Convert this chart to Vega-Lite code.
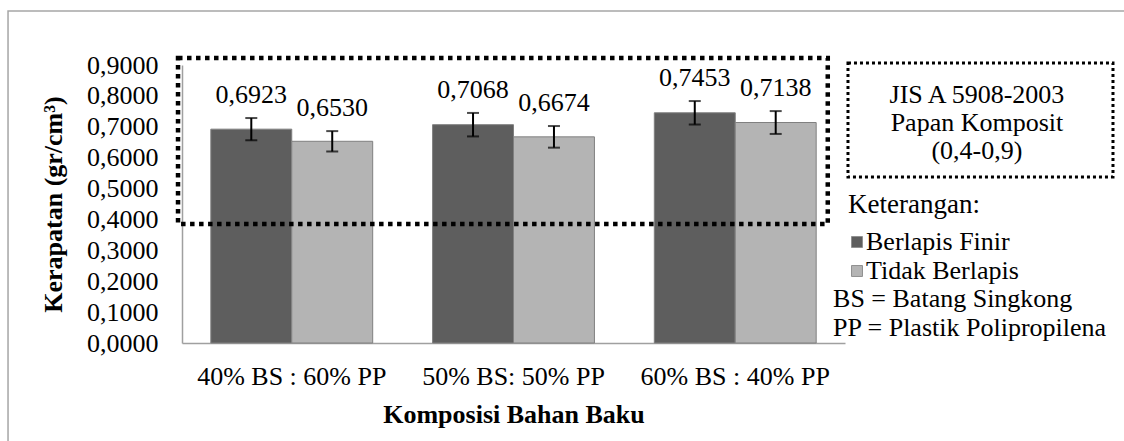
{
  "$schema": "https://vega.github.io/schema/vega-lite/v6.json",
  "width": 663,
  "height": 278,
  "autosize": {"type": "none"},
  "padding": {"left": 182, "top": 65, "right": 279, "bottom": 98},
  "background": "white",
  "config": {
    "locale": {"number": {"decimal": ",", "thousands": ".", "grouping": [3], "currency": ["", ""]}},
    "font": "Liberation Serif",
    "view": {"stroke": null},
    "axis": {
      "domainColor": "#a0a0a0",
      "domainWidth": 1.5,
      "ticks": false,
      "tickSize": 0,
      "grid": false,
      "labelFont": "Liberation Serif",
      "labelFontSize": 26,
      "labelColor": "black",
      "labelOverlap": false,
      "labelLimit": 0,
      "titleFont": "Liberation Serif",
      "titleFontSize": 26,
      "titleFontWeight": "bold",
      "titleColor": "black"
    },
    "axisY": {"tickCount": 10},
    "text": {"font": "Liberation Serif", "fontSize": 26, "color": "black"}
  },
  "datasets": {
    "kerapatan": [
      {"komposisi": "40% BS : 60% PP", "seri": "Berlapis Finir", "nilai": 0.6923, "lo": 0.6563, "hi": 0.7283},
      {"komposisi": "40% BS : 60% PP", "seri": "Tidak Berlapis", "nilai": 0.6530, "lo": 0.6200, "hi": 0.6860},
      {"komposisi": "50%  BS: 50% PP", "seri": "Berlapis Finir", "nilai": 0.7068, "lo": 0.6688, "hi": 0.7448},
      {"komposisi": "50%  BS: 50% PP", "seri": "Tidak Berlapis", "nilai": 0.6674, "lo": 0.6324, "hi": 0.7024},
      {"komposisi": "60% BS : 40% PP", "seri": "Berlapis Finir", "nilai": 0.7453, "lo": 0.7073, "hi": 0.7833},
      {"komposisi": "60% BS : 40% PP", "seri": "Tidak Berlapis", "nilai": 0.7138, "lo": 0.6768, "hi": 0.7508}
    ],
    "frame": [{"x": -0.2624, "x2": 1.45, "y": 1.0748, "y2": -0.4}],
    "standar": [{"x": -0.006, "x2": 0.974, "y": 0.9226, "y2": 0.385}],
    "kotakjis": [{"x": 1.0045, "x2": 1.4042, "y": 0.9064, "y2": 0.5374}],
    "teksjis": [
      {"t": "JIS A 5908-2003", "x": 1.199, "y": 0.8028},
      {"t": "Papan Komposit", "x": 1.199, "y": 0.7122},
      {"t": "(0,4-0,9)", "x": 1.199, "y": 0.6216}
    ],
    "catatan": [
      {"t": "BS = Batang Singkong", "x": 0.982, "y": 0.1424},
      {"t": "PP = Plastik Polipropilena", "x": 0.982, "y": 0.0486}
    ]
  },
  "layer": [
    {
      "data": {"name": "kerapatan"},
      "encoding": {
        "x": {
          "field": "komposisi",
          "type": "nominal",
          "sort": null,
          "scale": {"paddingInner": 0.27, "paddingOuter": 0.13},
          "axis": {"labelAngle": 0, "labelPadding": 20, "title": "Komposisi  Bahan Baku", "titlePadding": 12}
        },
        "xOffset": {"field": "seri", "type": "nominal", "sort": null, "scale": {"paddingInner": 0, "paddingOuter": 0}}
      },
      "layer": [
        {
          "mark": {"type": "bar", "stroke": "#808080", "strokeWidth": 1},
          "encoding": {
            "y": {
              "field": "nilai",
              "type": "quantitative",
              "scale": {"domain": [0, 0.9], "nice": false, "zero": true},
              "axis": {
                "values": [0, 0.1, 0.2, 0.3, 0.4, 0.5, 0.6, 0.7, 0.8, 0.9],
                "tickCount": 10,
                "format": ".4f",
                "labelOverlap": false,
                "labelPadding": 24,
                "title": "Kerapatan (gr/cm³)",
                "titlePadding": 20
              }
            },
            "color": {
              "field": "seri",
              "type": "nominal",
              "sort": null,
              "scale": {"domain": ["Berlapis Finir", "Tidak Berlapis"], "range": ["#5e5e5e", "#b4b4b4"]},
              "legend": {
                "orient": "none",
                "legendX": 666,
                "legendY": 127,
                "title": "Keterangan:",
                "titleFont": "Liberation Serif",
                "titleFontSize": 27,
                "titleFontWeight": "normal",
                "titleColor": "black",
                "titlePadding": 10,
                "labelFont": "Liberation Serif",
                "labelFontSize": 26,
                "labelColor": "black",
                "symbolType": "square",
                "symbolSize": 120,
                "symbolStrokeWidth": 1,
                "symbolStrokeColor": "#909090",
                "symbolOffset": -4,
                "labelOffset": -4,
                "rowPadding": 3,
                "padding": 0
              }
            }
          }
        },
        {
          "mark": {"type": "rule", "color": "black", "strokeWidth": 2},
          "encoding": {
            "y": {
              "field": "lo",
              "type": "quantitative",
              "axis": {
                "values": [0, 0.1, 0.2, 0.3, 0.4, 0.5, 0.6, 0.7, 0.8, 0.9],
                "tickCount": 10,
                "format": ".4f",
                "labelOverlap": false,
                "labelPadding": 24,
                "title": "Kerapatan (gr/cm³)",
                "titlePadding": 20
              }
            },
            "y2": {"field": "hi"}
          }
        },
        {
          "mark": {"type": "tick", "color": "black", "thickness": 2, "size": 12},
          "encoding": {
            "y": {
              "field": "lo",
              "type": "quantitative",
              "axis": {
                "values": [0, 0.1, 0.2, 0.3, 0.4, 0.5, 0.6, 0.7, 0.8, 0.9],
                "tickCount": 10,
                "format": ".4f",
                "labelOverlap": false,
                "labelPadding": 24,
                "title": "Kerapatan (gr/cm³)",
                "titlePadding": 20
              }
            }
          }
        },
        {
          "mark": {"type": "tick", "color": "black", "thickness": 2, "size": 12},
          "encoding": {
            "y": {
              "field": "hi",
              "type": "quantitative",
              "axis": {
                "values": [0, 0.1, 0.2, 0.3, 0.4, 0.5, 0.6, 0.7, 0.8, 0.9],
                "tickCount": 10,
                "format": ".4f",
                "labelOverlap": false,
                "labelPadding": 24,
                "title": "Kerapatan (gr/cm³)",
                "titlePadding": 20
              }
            }
          }
        },
        {
          "mark": {"type": "text", "dy": -15, "baseline": "alphabetic", "align": "center"},
          "encoding": {
            "y": {
              "field": "hi",
              "type": "quantitative",
              "axis": {
                "values": [0, 0.1, 0.2, 0.3, 0.4, 0.5, 0.6, 0.7, 0.8, 0.9],
                "tickCount": 10,
                "format": ".4f",
                "labelOverlap": false,
                "labelPadding": 24,
                "title": "Kerapatan (gr/cm³)",
                "titlePadding": 20
              }
            },
            "text": {"field": "nilai", "type": "quantitative", "format": ".4f"}
          }
        }
      ]
    },
    {
      "encoding": {
        "x": {"field": "x", "type": "quantitative", "scale": {"domain": [0, 1], "nice": false, "zero": false}, "axis": null},
        "y": {"field": "y", "type": "quantitative", "scale": {"domain": [0, 0.9], "nice": false, "zero": false}, "axis": null}
      },
      "layer": [
        {
          "data": {"name": "frame"},
          "mark": {"type": "rect", "fill": "white", "fillOpacity": 0, "stroke": "#a6a6a6", "strokeWidth": 1.5},
          "encoding": {"x2": {"field": "x2"}, "y2": {"field": "y2"}}
        },
        {
          "data": {"name": "standar"},
          "mark": {"type": "rect", "fill": "white", "fillOpacity": 0, "stroke": "black", "strokeWidth": 4.5, "strokeDash": [4.5, 4.5]},
          "encoding": {"x2": {"field": "x2"}, "y2": {"field": "y2"}}
        },
        {
          "data": {"name": "kotakjis"},
          "mark": {"type": "rect", "fill": "white", "fillOpacity": 0, "stroke": "black", "strokeWidth": 3, "strokeDash": [3, 3]},
          "encoding": {"x2": {"field": "x2"}, "y2": {"field": "y2"}}
        },
        {
          "data": {"name": "teksjis"},
          "mark": {"type": "text", "align": "center", "baseline": "middle"},
          "encoding": {"text": {"field": "t", "type": "nominal"}}
        },
        {
          "data": {"name": "catatan"},
          "mark": {"type": "text", "align": "left", "baseline": "middle"},
          "encoding": {"text": {"field": "t", "type": "nominal"}}
        }
      ]
    }
  ],
  "resolve": {"scale": {"x": "independent", "y": "independent"}}
}
